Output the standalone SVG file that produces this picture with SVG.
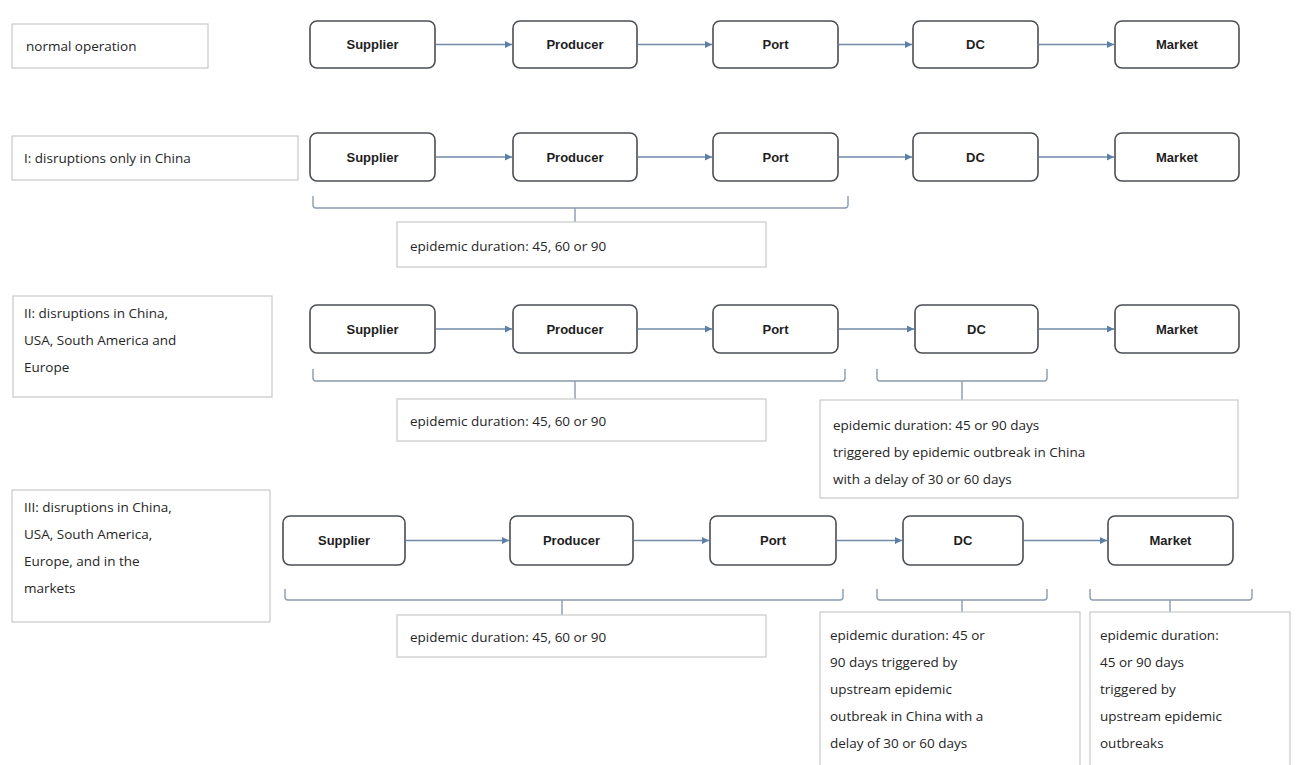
<svg xmlns="http://www.w3.org/2000/svg" width="1312" height="765" viewBox="0 0 1312 765">
<style>
.node rect{fill:#fff;stroke:#4a4f55;stroke-width:1.6}
.node text{font-family:"Liberation Sans",Arial,sans-serif;font-weight:bold;font-size:13px;fill:#1e1e1e;text-anchor:middle}
.lbl rect{fill:#fff;stroke:#c8c8c8;stroke-width:1.2}
.lbl text{font-family:"Open Sans","Liberation Sans",sans-serif;font-size:13.5px;fill:#262626}
.conn line{stroke:#6f8aa6;stroke-width:1.4}
.brace path{fill:none;stroke:#8b9bb0;stroke-width:1.4}
</style>
<defs>
<marker id="ah" markerWidth="8" markerHeight="8" refX="7" refY="4" orient="auto" markerUnits="userSpaceOnUse">
<path d="M0,0.5 L7,4 L0,7.5 Z" fill="#5b7fa6"/>
</marker>
</defs>
<rect width="1312" height="765" fill="#fff"/>

<!-- Row labels -->
<g id="lbl-normal" class="lbl"><rect x="12" y="24" width="196" height="44"/><text x="26" y="51">normal operation</text></g>
<g id="lbl-I" class="lbl"><rect x="12" y="136" width="286" height="44"/><text x="24" y="163">I: disruptions  only in China</text></g>
<g id="lbl-II" class="lbl"><rect x="13" y="296" width="259" height="101"/><text x="24" y="318">II: disruptions  in China,</text><text x="24" y="345">USA, South America and</text><text x="24" y="372">Europe</text></g>
<g id="lbl-III" class="lbl"><rect x="12" y="490" width="258" height="132"/><text x="24" y="512">III: disruptions  in China,</text><text x="24" y="539">USA, South America,</text><text x="24" y="566">Europe, and in the</text><text x="24" y="593">markets</text></g>

<!-- Row 1 nodes -->
<g id="r1-supplier" class="node"><rect x="310" y="21" width="125" height="47" rx="7"/><text x="372.5" y="49">Supplier</text></g>
<g id="r1-producer" class="node"><rect x="513" y="21" width="124" height="47" rx="7"/><text x="575" y="49">Producer</text></g>
<g id="r1-port" class="node"><rect x="713" y="21" width="125" height="47" rx="7"/><text x="775.5" y="49">Port</text></g>
<g id="r1-dc" class="node"><rect x="913" y="21" width="125" height="47" rx="7"/><text x="975.5" y="49">DC</text></g>
<g id="r1-market" class="node"><rect x="1115" y="21" width="124" height="47" rx="7"/><text x="1177" y="49">Market</text></g>

<!-- Row 2 nodes -->
<g id="r2-supplier" class="node"><rect x="310" y="133" width="125" height="48" rx="7"/><text x="372.5" y="162">Supplier</text></g>
<g id="r2-producer" class="node"><rect x="513" y="133" width="124" height="48" rx="7"/><text x="575" y="162">Producer</text></g>
<g id="r2-port" class="node"><rect x="713" y="133" width="125" height="48" rx="7"/><text x="775.5" y="162">Port</text></g>
<g id="r2-dc" class="node"><rect x="913" y="133" width="125" height="48" rx="7"/><text x="975.5" y="162">DC</text></g>
<g id="r2-market" class="node"><rect x="1115" y="133" width="124" height="48" rx="7"/><text x="1177" y="162">Market</text></g>

<!-- Row 3 nodes -->
<g id="r3-supplier" class="node"><rect x="310" y="305" width="125" height="48" rx="7"/><text x="372.5" y="334">Supplier</text></g>
<g id="r3-producer" class="node"><rect x="513" y="305" width="124" height="48" rx="7"/><text x="575" y="334">Producer</text></g>
<g id="r3-port" class="node"><rect x="713" y="305" width="125" height="48" rx="7"/><text x="775.5" y="334">Port</text></g>
<g id="r3-dc" class="node"><rect x="915" y="305" width="123" height="48" rx="7"/><text x="976.5" y="334">DC</text></g>
<g id="r3-market" class="node"><rect x="1115" y="305" width="124" height="48" rx="7"/><text x="1177" y="334">Market</text></g>

<!-- Row 4 nodes -->
<g id="r4-supplier" class="node"><rect x="283" y="516" width="122" height="49" rx="7"/><text x="344" y="545">Supplier</text></g>
<g id="r4-producer" class="node"><rect x="510" y="516" width="123" height="49" rx="7"/><text x="571.5" y="545">Producer</text></g>
<g id="r4-port" class="node"><rect x="710" y="516" width="126" height="49" rx="7"/><text x="773" y="545">Port</text></g>
<g id="r4-dc" class="node"><rect x="903" y="516" width="120" height="49" rx="7"/><text x="963" y="545">DC</text></g>
<g id="r4-market" class="node"><rect x="1108" y="516" width="125" height="49" rx="7"/><text x="1170.5" y="545">Market</text></g>

<!-- Connectors -->
<g id="connectors" class="conn">
<line x1="436" y1="44.5" x2="512" y2="44.5" marker-end="url(#ah)"/>
<line x1="638" y1="44.5" x2="712" y2="44.5" marker-end="url(#ah)"/>
<line x1="839" y1="44.5" x2="912" y2="44.5" marker-end="url(#ah)"/>
<line x1="1039" y1="44.5" x2="1114" y2="44.5" marker-end="url(#ah)"/>

<line x1="436" y1="157" x2="512" y2="157" marker-end="url(#ah)"/>
<line x1="638" y1="157" x2="712" y2="157" marker-end="url(#ah)"/>
<line x1="839" y1="157" x2="912" y2="157" marker-end="url(#ah)"/>
<line x1="1039" y1="157" x2="1114" y2="157" marker-end="url(#ah)"/>

<line x1="436" y1="329" x2="512" y2="329" marker-end="url(#ah)"/>
<line x1="638" y1="329" x2="712" y2="329" marker-end="url(#ah)"/>
<line x1="839" y1="329" x2="914" y2="329" marker-end="url(#ah)"/>
<line x1="1039" y1="329" x2="1114" y2="329" marker-end="url(#ah)"/>

<line x1="406" y1="540.5" x2="509" y2="540.5" marker-end="url(#ah)"/>
<line x1="634" y1="540.5" x2="709" y2="540.5" marker-end="url(#ah)"/>
<line x1="837" y1="540.5" x2="902" y2="540.5" marker-end="url(#ah)"/>
<line x1="1024" y1="540.5" x2="1107" y2="540.5" marker-end="url(#ah)"/>
</g>

<!-- Braces -->
<g id="braces" class="brace">
<path d="M313,196 V205 Q313,208 316,208 H845 Q848,208 848,205 V196 M575,208 V222"/>
<path d="M313,369 V378 Q313,381 316,381 H842 Q845,381 845,378 V369 M575,381 V399"/>
<path d="M877,369 V378 Q877,381 880,381 H1044 Q1047,381 1047,378 V369 M962,381 V400"/>
<path d="M285,589 V597 Q285,600 288,600 H840 Q843,600 843,597 V589 M562,600 V615"/>
<path d="M877,589 V597 Q877,600 880,600 H1044 Q1047,600 1047,597 V589 M962,600 V612"/>
<path d="M1090,589 V597 Q1090,600 1093,600 H1249 Q1252,600 1252,597 V589 M1170,600 V612"/>
</g>

<!-- Duration notes -->
<g id="note-I" class="lbl"><rect x="397" y="222" width="369" height="45"/><text x="410" y="251">epidemic duration:  45, 60 or 90</text></g>
<g id="note-II-a" class="lbl"><rect x="397" y="399" width="369" height="42"/><text x="410" y="426">epidemic duration:  45, 60 or 90</text></g>
<g id="note-II-b" class="lbl"><rect x="820" y="400" width="418" height="98"/><text x="833" y="430">epidemic  duration:  45 or 90 days</text><text x="833" y="457">triggered  by epidemic  outbreak  in China</text><text x="833" y="484">with a delay of 30 or 60 days</text></g>
<g id="note-III-a" class="lbl"><rect x="397" y="615" width="369" height="42"/><text x="410" y="642">epidemic duration:  45, 60 or 90</text></g>
<g id="note-III-b" class="lbl"><rect x="820" y="612" width="260" height="160"/><text x="830" y="640">epidemic  duration:  45 or</text><text x="830" y="667">90 days triggered  by</text><text x="830" y="694">upstream  epidemic</text><text x="830" y="721">outbreak  in China with a</text><text x="830" y="748">delay of 30 or 60 days</text></g>
<g id="note-III-c" class="lbl"><rect x="1090" y="612" width="200" height="160"/><text x="1100" y="640">epidemic  duration:</text><text x="1100" y="667">45 or 90 days</text><text x="1100" y="694">triggered  by</text><text x="1100" y="721">upstream  epidemic</text><text x="1100" y="748">outbreaks</text></g>
</svg>
